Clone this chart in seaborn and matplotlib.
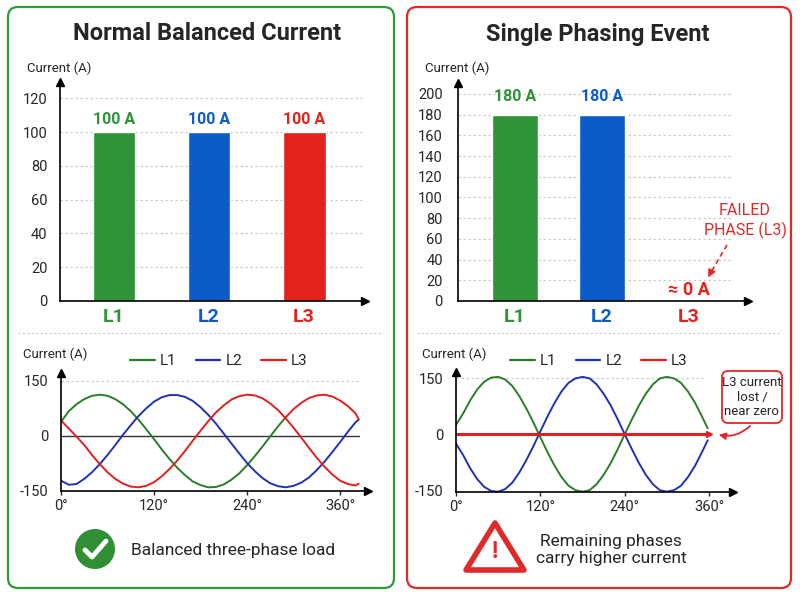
import matplotlib.pyplot as plt
import matplotlib.patches as mpatches
from matplotlib.lines import Line2D
import seaborn as sns

# ---- data ----
phases = ["L1", "L2", "L3"]
normal_current = [100, 100, 100]
fault_current = [180, 180, 0]

phase_colors = ["#2e9437", "#0b5cc9", "#e3231b"]
wave_colors = ["#2b7d2b", "#1f33b5", "#e02020"]
green_edge = "#2f9a3a"
red_edge = "#e02a2a"

# balanced waveforms (degrees, amps)
normal_deg = list(range(0, 381, 10)) + [384]
normal_l1_deg = normal_deg[:30]
normal_l1 = [38, 67, 86, 100, 109, 112, 109, 100, 86, 67, 44, 18, -9, -37, -63,
             -87, -107, -124, -134, -140, -139, -132, -119, -102, -80, -55, -29,
             -1, 26, 51]
normal_l2 = [-122, -133, -131, -117, -99, -77, -52, -25, 3, 29, 54, 75, 93, 105,
             111, 111, 106, 95, 78, 57, 33, 6, -21, -48, -74, -96, -115, -129,
             -137, -140, -136, -127, -113, -93, -70, -44, -17, 11, 37, 44]
normal_l3 = [42, 20, -2, -25, -52, -77, -99, -117, -130, -138, -140, -136, -126,
             -110, -90, -67, -41, -13, 14, 40, 64, 83, 99, 108, 112, 110, 102, 88,
             70, 47, 22, -5, -33, -60, -84, -105, -122, -131, -135, -130]
# the reference draws a second red branch after the last green/red crossing
normal_l3_branch_deg = normal_deg[29:]
normal_l3_branch = [51, 73, 90, 103, 110, 112, 107, 96, 81, 61, 45]

# single phasing waveforms
fault_deg = list(range(0, 351, 10)) + [358]
fault_l1 = [25, 55, 90, 119, 140, 151, 153, 146, 129, 102, 69, 32, -8, -47, -83,
            -114, -137, -149, -153, -149, -133, -108, -77, -40, 0, 39, 76, 108,
            133, 149, 153, 149, 137, 114, 84, 47, 16]
fault_l2 = [-25, -55, -90, -119, -140, -151, -153, -146, -129, -102, -69, -32, 8,
            47, 83, 114, 137, 149, 153, 149, 133, 108, 77, 40, 0, -39, -76, -108,
            -133, -149, -153, -149, -137, -114, -84, -47, -16]
fault_l3_deg = [0, 360]
fault_l3 = [0, 0]

wave_ticks = [0, 120, 240, 360]
wave_ticklabels = ["0°", "120°", "240°", "360°"]

# ---- style ----
sns.set_style("white")
plt.rcParams['font.family'] = ['Roboto', 'DejaVu Sans']
plt.rcParams['axes.unicode_minus'] = False

fig = plt.figure(figsize=(8, 6), dpi=100)
bg = fig.add_axes([0, 0, 1, 1], zorder=-1)
bg.set_xlim(0, 800)
bg.set_ylim(600, 0)
bg.axis('off')


def px_axes(x0, y0, x1, y1):
    ax = fig.add_axes([x0 / 800, 1 - y1 / 600, (x1 - x0) / 800, (y1 - y0) / 600])
    ax.patch.set_alpha(0)
    return ax


def arrow_spines(ax):
    sns.despine(ax=ax)
    for s in ['left', 'bottom']:
        ax.spines[s].set_linewidth(1.2)
        ax.spines[s].set_color('black')
    ax.plot(1, 0, '>k', ms=6, transform=ax.transAxes, clip_on=False)
    ax.plot(0, 1, '^k', ms=6, transform=ax.transAxes, clip_on=False)


# panel frames, titles, separators
for x0, x1, col in [(8, 394, green_edge), (407, 791, red_edge)]:
    bg.add_patch(mpatches.FancyBboxPatch((x0, 7), x1 - x0, 581,
                                         boxstyle="round,pad=0,rounding_size=10",
                                         fc='white', ec=col, lw=1.6))
    bg.plot([x0 + 10, x1 - 11], [333, 333], color='#cccccc', lw=0.8, ls=(0, (2, 2)))

bg.text(207, 34, "Normal Balanced Current", ha='center', va='center',
        fontsize=17, fontweight='bold')
bg.text(598, 34, "Single Phasing Event", ha='center', va='center',
        fontsize=17, fontweight='bold')

for x, y in [(27, 68), (425, 68), (23, 354), (422, 354)]:
    bg.text(x, y, "Current (A)", va='center', fontsize=9.5)


# ---- bar charts ----
def bar_panel(ax, values, width, ylim, ticks, xlim, grid_end, label_off, pad):
    sns.barplot(x=phases, y=values, hue=phases, palette=phase_colors, width=width,
                saturation=1, legend=False, ax=ax)
    ax.set_xlim(*xlim)
    ax.set_ylim(*ylim)
    ax.set_yticks(ticks)
    ax.set_xlabel("")
    ax.set_ylabel("")
    for t in ticks[1:]:
        ax.axhline(t, xmin=0, xmax=grid_end, color='#cccccc', lw=0.9,
                   ls=(0, (2, 2)), zorder=0)
    ax.tick_params(axis='y', length=0, pad=pad, labelsize=10.5)
    ax.tick_params(axis='x', length=0, pad=5)
    for lbl, c in zip(ax.get_xticklabels(), phase_colors):
        lbl.set_color(c)
        lbl.set_fontsize(14)
        lbl.set_fontweight('bold')
    for i, v in enumerate(values):
        if v > 0:
            ax.annotate(f"{v} A", (i, v), xytext=(0, label_off),
                        textcoords='offset points', ha='center', va='center',
                        color=phase_colors[i], fontsize=11.5, fontweight='bold')
    arrow_spines(ax)


ax1 = px_axes(60, 82, 365, 301)
bar_panel(ax1, normal_current, 0.45, (0, 129.6), list(range(0, 121, 20)),
          (-0.568, 2.64), 0.99, 9, 9)

ax2 = px_axes(458, 83, 748, 301)
bar_panel(ax2, fault_current, 0.52, (0, 210.6), list(range(0, 201, 20)),
          (-0.655, 2.68), 0.945, 13, 11)
ax2.annotate("≈ 0 A", (2, fault_current[2]), xytext=(0, 8),
             textcoords='offset points', ha='center', va='center',
             color=phase_colors[2], fontsize=13, fontweight='bold')

bg.text(745, 221, "FAILED\nPHASE (L3)", ha='center', va='center', color=red_edge,
        fontsize=11.5, linespacing=1.25)
bg.plot([727, 711], [245, 272], color=red_edge, lw=1.2, ls=(0, (3, 2)))
bg.annotate('', xy=(707, 280), xytext=(711, 272),
            arrowprops=dict(arrowstyle='-|>', color=red_edge, lw=1.2,
                            mutation_scale=11))


# ---- waveforms ----
def wave_axes(ax, xlim, ylim, grid_end, pad):
    ax.set_xlim(*xlim)
    ax.set_ylim(*ylim)
    ax.set_xticks(wave_ticks)
    ax.set_xticklabels(wave_ticklabels)
    ax.set_yticks([-150, 0, 150])
    ax.set_xlabel("")
    ax.set_ylabel("")
    ax.axhline(150, xmin=0, xmax=grid_end, color='#cccccc', lw=0.9,
               ls=(0, (2, 2)), zorder=0)
    ax.tick_params(axis='x', length=3, width=1, pad=3, labelsize=10.5,
                   direction='out', bottom=True)
    ax.tick_params(axis='y', length=0, pad=pad, labelsize=10.5)
    arrow_spines(ax)


def wave_legend(ax, cx):
    handles = [Line2D([], [], color=c, lw=1.6) for c in wave_colors]
    ax.legend(handles, phases, loc='center', ncol=3, frameon=False,
              bbox_to_anchor=(cx / 800, 1 - 361 / 600), bbox_transform=fig.transFigure,
              fontsize=11, handlelength=1.6, handletextpad=0.35, columnspacing=1.25)


ax3 = px_axes(61, 373, 368, 491)
ax3.axhline(0, xmin=0, xmax=384 / 396, color='#333333', lw=1, zorder=1)
sns.lineplot(x=normal_l1_deg, y=normal_l1, color=wave_colors[0], linewidth=1.4, ax=ax3)
sns.lineplot(x=normal_deg, y=normal_l2, color=wave_colors[1], linewidth=1.4, ax=ax3)
sns.lineplot(x=normal_deg, y=normal_l3, color=wave_colors[2], linewidth=1.4, ax=ax3)
sns.lineplot(x=normal_l3_branch_deg, y=normal_l3_branch, color=wave_colors[2],
             linewidth=1.4, ax=ax3)
wave_axes(ax3, (0, 396), (-150, 171), 0.97, 9)
wave_legend(ax3, 219)

ax4 = px_axes(456, 372, 733, 491.7)
sns.lineplot(x=fault_deg, y=fault_l1, color=wave_colors[0], linewidth=1.4, ax=ax4)
sns.lineplot(x=fault_deg, y=fault_l2, color=wave_colors[1], linewidth=1.4, ax=ax4)
sns.lineplot(x=fault_l3_deg, y=fault_l3, color=wave_colors[2], linewidth=2.2, ax=ax4)
ax4.plot(fault_l3_deg[-1], fault_l3[-1], marker='>', color=wave_colors[2], ms=5)
wave_axes(ax4, (0, 394), (-153, 166), 0.89, 9)
wave_legend(ax4, 599)

# callout
bg.add_patch(mpatches.FancyBboxPatch((722, 371), 60, 52,
                                     boxstyle="round,pad=0,rounding_size=6",
                                     fc='white', ec=red_edge, lw=1.3))
bg.text(752, 397, "L3 current\nlost /\nnear zero", ha='center', va='center',
        fontsize=9.5, linespacing=1.15)
bg.annotate('', xy=(716, 434), xytext=(752, 424),
            arrowprops=dict(arrowstyle='-|>', color=red_edge, lw=1.3,
                            mutation_scale=10, connectionstyle='arc3,rad=-0.3'))

# ---- captions ----
bg.add_patch(mpatches.Circle((95, 549), 20, fc='#2f8f32', ec='none'))
bg.plot([85, 92, 106], [550, 557, 541], color='white', lw=3.5,
        solid_capstyle='round', solid_joinstyle='round')
bg.text(131, 550, "Balanced three-phase load", va='center', fontsize=12.5)

bg.add_patch(mpatches.Polygon([(495, 523), (466, 570), (524, 570)], closed=True,
                              fc='white', ec=red_edge, lw=4, joinstyle='round'))
bg.text(495, 552, "!", ha='center', va='center', color=red_edge, fontsize=17,
        fontweight='bold')
bg.text(611, 550, "Remaining phases\ncarry higher current", ha='center',
        va='center', fontsize=12.5, linespacing=1.2)

fig.savefig('out.png', dpi=100)
